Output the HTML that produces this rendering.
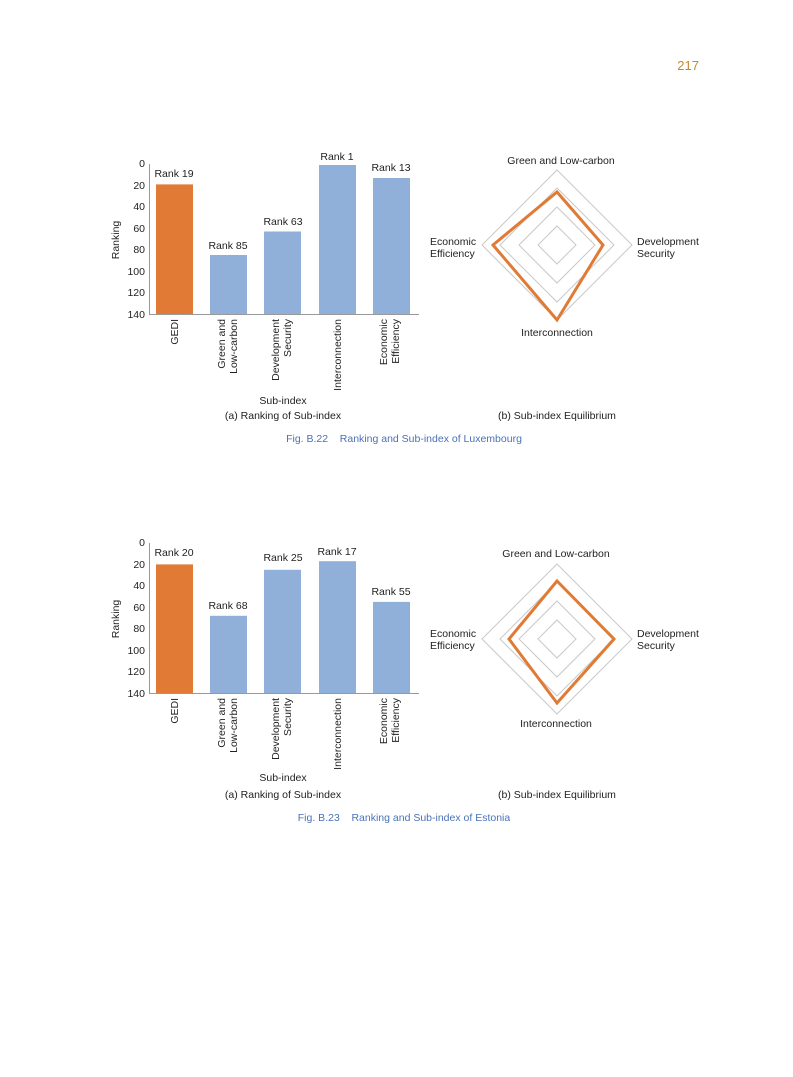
<!DOCTYPE html>
<html><head><meta charset="utf-8"><style>
html,body{margin:0;padding:0;background:#fff;}
svg{display:block;font-family:"Liberation Sans",sans-serif;}
</style></head><body>
<svg width="793" height="1077" viewBox="0 0 793 1077" xmlns="http://www.w3.org/2000/svg">
<text x="699" y="70" font-size="13" fill="#c08a2e" text-anchor="end">217</text>

<!-- Chart 1 bars -->
<g font-size="10.5" fill="#222">
<g text-anchor="end">
<text x="145" y="167">0</text><text x="145" y="189">20</text><text x="145" y="210">40</text><text x="145" y="232">60</text><text x="145" y="253">80</text><text x="145" y="275">100</text><text x="145" y="296">120</text><text x="145" y="318">140</text>
</g>
<line x1="149.5" y1="164" x2="149.5" y2="314" stroke="#999"/>
<line x1="149" y1="314.5" x2="419" y2="314.5" stroke="#999"/>
<rect x="156" y="184.4" width="37" height="129.6" fill="#e07a35"/>
<rect x="210" y="255" width="37" height="59" fill="#91b0d9"/>
<rect x="264" y="231.5" width="37" height="82.5" fill="#91b0d9"/>
<rect x="319" y="165" width="37" height="149" fill="#91b0d9"/>
<rect x="373" y="178" width="37" height="136" fill="#91b0d9"/>
<g text-anchor="middle">
<text x="174" y="177">Rank 19</text><text x="228" y="249">Rank 85</text><text x="283" y="225">Rank 63</text><text x="337" y="160">Rank 1</text><text x="391" y="171">Rank 13</text>
</g>
<text transform="translate(119,240) rotate(-90)" text-anchor="middle">Ranking</text>
<g text-anchor="end">
<text transform="translate(178,319) rotate(-90)">GEDI</text>
<text transform="translate(225,319) rotate(-90)">Green and</text><text transform="translate(237,319) rotate(-90)">Low-carbon</text>
<text transform="translate(279,319) rotate(-90)">Development</text><text transform="translate(291,319) rotate(-90)">Security</text>
<text transform="translate(341,319) rotate(-90)">Interconnection</text>
<text transform="translate(387,319) rotate(-90)">Economic</text><text transform="translate(399,319) rotate(-90)">Efficiency</text>
</g>
<text x="283" y="404" text-anchor="middle">Sub-index</text>
<text x="283" y="419" text-anchor="middle">(a) Ranking of Sub-index</text>
<text x="557" y="419" text-anchor="middle">(b) Sub-index Equilibrium</text>
<text x="404" y="442" text-anchor="middle" fill="#4a72b8" style="white-space:pre">Fig. B.22    Ranking and Sub-index of Luxembourg</text>
</g>

<!-- Radar 1 -->
<g transform="translate(557,245)" fill="none" stroke="#c8c8c8" stroke-width="1">
<polygon points="0,-19 19,0 0,19 -19,0"/><polygon points="0,-38 38,0 0,38 -38,0"/><polygon points="0,-57 57,0 0,57 -57,0"/><polygon points="0,-75 75,0 0,75 -75,0"/>
<polygon points="0,-53 46,0 0,75 -64,0" stroke="#e07a35" stroke-width="3" stroke-linejoin="miter"/>
</g>
<g font-size="10.5" fill="#222">
<text x="561" y="164" text-anchor="middle">Green and Low-carbon</text>
<text x="637" y="245">Development</text><text x="637" y="257">Security</text>
<text x="430" y="245">Economic</text><text x="430" y="257">Efficiency</text>
<text x="557" y="336" text-anchor="middle">Interconnection</text>
</g>

<!-- Chart 2 bars -->
<g font-size="10.5" fill="#222">
<g text-anchor="end">
<text x="145" y="546">0</text><text x="145" y="568">20</text><text x="145" y="589">40</text><text x="145" y="611">60</text><text x="145" y="632">80</text><text x="145" y="654">100</text><text x="145" y="675">120</text><text x="145" y="697">140</text>
</g>
<line x1="149.5" y1="543" x2="149.5" y2="693" stroke="#999"/>
<line x1="149" y1="693.5" x2="419" y2="693.5" stroke="#999"/>
<rect x="156" y="564.4" width="37" height="128.6" fill="#e07a35"/>
<rect x="210" y="615.8" width="37" height="77.2" fill="#91b0d9"/>
<rect x="264" y="569.8" width="37" height="123.2" fill="#91b0d9"/>
<rect x="319" y="561.2" width="37" height="131.8" fill="#91b0d9"/>
<rect x="373" y="601.9" width="37" height="91.1" fill="#91b0d9"/>
<g text-anchor="middle">
<text x="174" y="556">Rank 20</text><text x="228" y="609">Rank 68</text><text x="283" y="561">Rank 25</text><text x="337" y="555">Rank 17</text><text x="391" y="595">Rank 55</text>
</g>
<text transform="translate(119,619) rotate(-90)" text-anchor="middle">Ranking</text>
<g text-anchor="end">
<text transform="translate(178,698) rotate(-90)">GEDI</text>
<text transform="translate(225,698) rotate(-90)">Green and</text><text transform="translate(237,698) rotate(-90)">Low-carbon</text>
<text transform="translate(279,698) rotate(-90)">Development</text><text transform="translate(291,698) rotate(-90)">Security</text>
<text transform="translate(341,698) rotate(-90)">Interconnection</text>
<text transform="translate(387,698) rotate(-90)">Economic</text><text transform="translate(399,698) rotate(-90)">Efficiency</text>
</g>
<text x="283" y="781" text-anchor="middle">Sub-index</text>
<text x="283" y="798" text-anchor="middle">(a) Ranking of Sub-index</text>
<text x="557" y="798" text-anchor="middle">(b) Sub-index Equilibrium</text>
<text x="404" y="821" text-anchor="middle" fill="#4a72b8" style="white-space:pre">Fig. B.23    Ranking and Sub-index of Estonia</text>
</g>

<!-- Radar 2 -->
<g transform="translate(557,639)" fill="none" stroke="#c8c8c8" stroke-width="1">
<polygon points="0,-19 19,0 0,19 -19,0"/><polygon points="0,-38 38,0 0,38 -38,0"/><polygon points="0,-57 57,0 0,57 -57,0"/><polygon points="0,-75 75,0 0,75 -75,0"/>
<polygon points="0,-58 57,0 0,64 -48,0" stroke="#e07a35" stroke-width="3" stroke-linejoin="miter"/>
</g>
<g font-size="10.5" fill="#222">
<text x="556" y="557" text-anchor="middle">Green and Low-carbon</text>
<text x="637" y="637">Development</text><text x="637" y="649">Security</text>
<text x="430" y="637">Economic</text><text x="430" y="649">Efficiency</text>
<text x="556" y="727" text-anchor="middle">Interconnection</text>
</g>
</svg>
</body></html>
